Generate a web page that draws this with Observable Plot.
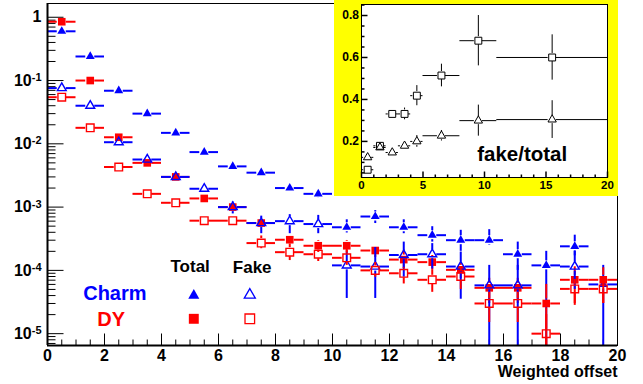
<!DOCTYPE html>
<html><head><meta charset="utf-8">
<script src="https://cdn.jsdelivr.net/npm/d3@7"></script>
<script src="https://cdn.jsdelivr.net/npm/@observablehq/plot@0.6"></script>
<style>
body{margin:0;background:#fff;}
#wrap{position:relative;width:643px;height:384px;overflow:hidden;font-family:"Liberation Sans",Arial,sans-serif;}
#wrap svg{display:block;}
#inset{position:absolute;left:334px;top:0;}
</style></head><body><div id="wrap"><div id="main"></div><div id="inset"></div></div>
<script>
// ---------- data ----------
const binCenter = [0.5,1.5,2.5,3.5,4.5,5.5,6.5,7.5,8.5,9.5,10.5,11.5,12.5,13.5,14.5,15.5,16.5,17.5,18.5,19.5];

const charmTotal   = [0.60,0.24,0.069,0.030,0.0149,0.0074,0.0044,0.0035,0.0020,0.00162,4.8e-4,7.1e-4,4.8e-4,3.6e-4,3.0e-4,3.0e-4,1.8e-4,1.2e-4,2.4e-4,6.0e-5];
const charmTotalLo = [null,null,null,null,null,null,null,null,1.75e-3,1.37e-3,3.9e-4,5.5e-4,3.8e-4,2.8e-4,2.0e-4,2.5e-4,1.0e-4,0,1.7e-4,0];
const charmTotalHi = [null,null,null,null,null,null,null,null,2.3e-3,1.9e-3,6.3e-4,8.8e-4,6.3e-4,4.9e-4,4.3e-4,4.4e-4,2.8e-4,2.0e-4,3.6e-4,1.2e-4];

const dyTotal   = [0.85,0.10,0.0127,0.0050,0.0030,0.00137,0.0010,5.6e-4,3.05e-4,2.45e-4,2.45e-4,2.06e-4,1.48e-4,1.35e-4,1.02e-4,5.3e-5,5.3e-5,3.0e-5,7.1e-5,7.1e-5];
const dyTotalLo = [null,null,null,null,null,null,null,null,2.57e-4,1.92e-4,1.92e-4,1.6e-4,1.07e-4,1.0e-4,7.4e-5,3.0e-5,3.0e-5,0,2.8e-5,3.0e-5];
const dyTotalHi = [null,null,null,null,null,null,null,null,3.56e-4,2.97e-4,2.97e-4,2.4e-4,2.06e-4,1.72e-4,1.33e-4,7.5e-5,7.5e-5,6.0e-5,1.14e-4,1.1e-4];

const charmFake   = [0.076,0.040,0.0106,0.00565,0.0030,0.00195,0.0010,5.6e-4,6.0e-4,5.4e-4,1.2e-4,1.15e-4,1.75e-4,1.8e-4,1.15e-4,5.8e-5,5.8e-5,null,1.15e-4,null];
const charmFakeLo = [null,null,null,null,null,null,7.8e-4,3.8e-4,3.8e-4,3.8e-4,3.6e-5,3.6e-5,7.8e-5,1.05e-4,3.5e-5,0,0,null,5.0e-5,null];
const charmFakeHi = [null,null,null,null,null,null,1.2e-3,7.2e-4,7.6e-4,7.4e-4,1.95e-4,2.3e-4,2.8e-4,2.65e-4,1.95e-4,1.2e-4,1.2e-4,null,2.0e-4,null];

const dyFake   = [0.0545,0.0179,0.0043,0.00162,0.00117,6.1e-4,6.1e-4,2.7e-4,1.94e-4,1.8e-4,1.58e-4,1.0e-4,9.0e-5,7.1e-5,8.0e-5,3.0e-5,3.0e-5,1.0e-5,5.1e-5,5.1e-5];
const dyFakeLo = [null,null,null,null,null,null,null,2.2e-4,1.43e-4,1.38e-4,1.2e-4,7.8e-5,6.1e-5,4.5e-5,5.0e-5,1.5e-5,1.5e-5,0,3.0e-5,3.0e-5];
const dyFakeHi = [null,null,null,null,null,null,null,3.5e-4,2.6e-4,2.4e-4,2.3e-4,1.33e-4,1.1e-4,1.0e-4,1.1e-4,4.5e-5,4.5e-5,2.0e-5,7.2e-5,7.2e-5];

// inset: fake/total
const ratioCenter = [0.5,1.5,2.5,3.5,4.5,6.5,9.5,15.5];
const ratioBinLo  = [0,1,2,3,4,5,8,11];
const ratioBinHi  = [1,2,3,4,5,8,11,20];
const ratioDY       = [0.065,0.179,0.331,0.331,0.418,0.514,0.68,0.60];
const ratioDYErr    = [0.008,0.012,0.012,0.028,0.048,0.054,0.12,0.108];
const ratioCharm    = [0.124,0.171,0.147,0.179,0.200,0.227,0.299,0.304];
const ratioCharmErr = [0.008,0.010,0.010,0.015,0.028,0.025,0.074,0.09];

// ticks / labels
const yTickValues = [1e-5,1e-4,1e-3,1e-2,1e-1,1];
const yTickLabels = ["10^-5","10^-4","10^-3","10^-2","10^-1","1"];
const xTickLabels = [0,2,4,6,8,10,12,14,16,18,20];
const insetXTicks = [0,5,10,15,20];
const insetYTicks = [0.2,0.4,0.6,0.8];
const insetYLabels = ["0.2","0.4","0.6","0.8"];
const legendCols = ["Total","Fake"];
const legendRows = ["Charm","DY"];
const xTitle = "Weighted offset";
const insetTitle = "fake/total";

// ---------- layout ----------
const W = 643, H = 384, mL = 47, mR = 26, mT = 3, mB = 39;
const xDomain = [0, 20], yDomain = [6.5e-6, 1.65];
const BLUE = "#0000ff", RED = "#ff0000";
const pxX = (W - mL - mR) / (xDomain[1] - xDomain[0]);
const pxDec = (H - mT - mB) / Math.log10(yDomain[1] / yDomain[0]);
const gapPx = 4.5;
const gX = gapPx / pxX, gY = Math.pow(10, gapPx / pxDec);

const hTick = len => ({draw(ctx){ ctx.moveTo(0,0); ctx.lineTo(len,0); }});
const vTick = len => ({draw(ctx){ ctx.moveTo(0,0); ctx.lineTo(0,-len); }});

const series = [
  {y: charmTotal, lo: charmTotalLo, hi: charmTotalHi, color: BLUE, symbol: "triangle", filled: true},
  {y: dyTotal, lo: dyTotalLo, hi: dyTotalHi, color: RED, symbol: "square", filled: true},
  {y: charmFake, lo: charmFakeLo, hi: charmFakeHi, color: BLUE, symbol: "triangle", filled: false},
  {y: dyFake, lo: dyFakeLo, hi: dyFakeHi, color: RED, symbol: "square", filled: false}
];

const marks = [];
// ticks
const yMinor = [];
for (let k = -6; k <= 0; k++) for (let m = 2; m <= 9; m++) { const v = m * Math.pow(10, k); if (v > yDomain[0] && v < yDomain[1]) yMinor.push(v); }
const xMinor = d3.range(0, 20.01, 0.5).filter(v => v % 2 !== 0);
marks.push(Plot.dot(yTickValues, {x: xDomain[0], y: d => d, symbol: hTick(16), fill: "none", stroke: "#000", strokeWidth: 1}));
marks.push(Plot.dot(yMinor, {x: xDomain[0], y: d => d, symbol: hTick(8), fill: "none", stroke: "#000", strokeWidth: 1}));
marks.push(Plot.dot(xTickLabels, {x: d => d, y: yDomain[0], symbol: vTick(12), fill: "none", stroke: "#000", strokeWidth: 1}));
marks.push(Plot.dot(xMinor, {x: d => d, y: yDomain[0], symbol: vTick(6), fill: "none", stroke: "#000", strokeWidth: 1}));

for (const s of series) {
  const rows = [];
  s.y.forEach((v, i) => { if (v != null) rows.push({x: binCenter[i], y: v, lo: s.lo[i], hi: s.hi[i]}); });
  const hs = [];
  rows.forEach(r => { hs.push({y: r.y, x1: r.x - 0.5, x2: r.x - gX}); hs.push({y: r.y, x1: r.x + gX, x2: r.x + 0.5}); });
  const vs = [];
  rows.forEach(r => {
    if (r.hi != null && r.hi > r.y * gY) vs.push({x: r.x, y1: r.y * gY, y2: r.hi});
    if (r.lo != null) { const lo = r.lo <= 0 ? yDomain[0] : r.lo; if (lo < r.y / gY) vs.push({x: r.x, y1: lo, y2: r.y / gY}); }
  });
  marks.push(Plot.ruleY(hs, {y: "y", x1: "x1", x2: "x2", stroke: s.color, strokeWidth: 2}));
  marks.push(Plot.ruleX(vs, {x: "x", y1: "y1", y2: "y2", stroke: s.color, strokeWidth: 2}));
  marks.push(Plot.dot(rows, {x: "x", y: "y", symbol: s.symbol, r: s.symbol === "square" ? 4.3 : 3.3,
    fill: s.filled ? s.color : "none", stroke: s.color, strokeWidth: s.filled ? 0 : 1.4}));
}

// frame + axis lines
marks.push(Plot.frame({stroke: "#000", strokeWidth: 1}));
marks.push(Plot.ruleY([yDomain[0]], {stroke: "#000", strokeWidth: 2}));
marks.push(Plot.ruleX([xDomain[0]], {stroke: "#000", strokeWidth: 2}));

// tick labels
marks.push(Plot.text(xTickLabels, {x: d => d, y: yDomain[0], dy: 10, text: d => String(d), fontSize: 16, fontWeight: "bold", fill: "#000"}));
marks.push(Plot.text(yTickValues, {x: xDomain[0], y: d => d, dx: -6, text: (d, i) => yTickLabels[i], textAnchor: "end", fontSize: 16, fontWeight: "bold", fill: "#000"}));
marks.push(Plot.text([xTitle], {frameAnchor: "bottom-right", dy: 31, text: d => d, textAnchor: "end", lineAnchor: "bottom", fontSize: 16, fontWeight: "bold", fill: "#000"}));

// legend
marks.push(Plot.text([legendCols[0]], {frameAnchor: "top-left", dx: 123, dy: 268.7, text: d => d, textAnchor: "start", lineAnchor: "bottom", fontSize: 17, fontWeight: "bold", fill: "#000"}));
marks.push(Plot.text([legendCols[1]], {frameAnchor: "top-left", dx: 185.3, dy: 269, text: d => d, textAnchor: "start", lineAnchor: "bottom", fontSize: 17, fontWeight: "bold", fill: "#000"}));
marks.push(Plot.text([legendRows[0]], {frameAnchor: "top-left", dx: 35.7, dy: 296, text: d => d, textAnchor: "start", lineAnchor: "bottom", fontSize: 20, fontWeight: "bold", fill: BLUE}));
marks.push(Plot.text([legendRows[1]], {frameAnchor: "top-left", dx: 49.7, dy: 322.7, text: d => d, textAnchor: "start", lineAnchor: "bottom", fontSize: 20, fontWeight: "bold", fill: RED}));
marks.push(Plot.dot([0], {frameAnchor: "top-left", dx: 146.3, dy: 292, symbol: "triangle", r: 4.1, fill: BLUE, stroke: "none"}));
marks.push(Plot.dot([0], {frameAnchor: "top-left", dx: 202.3, dy: 291.5, symbol: "triangle", r: 4.1, fill: "none", stroke: BLUE, strokeWidth: 1.3}));
marks.push(Plot.dot([0], {frameAnchor: "top-left", dx: 146.3, dy: 315.3, symbol: "square", r: 5.6, fill: RED, stroke: "none"}));
marks.push(Plot.dot([0], {frameAnchor: "top-left", dx: 202.3, dy: 315.3, symbol: "square", r: 5.4, fill: "none", stroke: RED, strokeWidth: 1.3}));

const main = Plot.plot({
  width: W, height: H, marginLeft: mL, marginRight: mR, marginTop: mT, marginBottom: mB,
  x: {domain: xDomain, axis: null},
  y: {type: "log", domain: yDomain, axis: null},
  style: {fontFamily: "'Liberation Sans', Arial, sans-serif", background: "white", overflow: "visible"},
  marks
});

function supers(svg) {
  d3.select(svg).selectAll("text").each(function() {
    const t = this.textContent; const m = /^10\^(-?\d+)$/.exec(t);
    if (m) { this.textContent = "10"; d3.select(this).append("tspan").attr("dy", "-0.42em").attr("font-size", "11px").text(m[1]); }
  });
}
supers(main);
document.getElementById("main").appendChild(main);

// ---------- inset ----------
const iW = 284, iH = 196, imL = 27, imR = 11, imT = 4, imB = 19;
const ixDomain = [0, 20], iyDomain = [0.028, 0.8525];
const ipxX = (iW - imL - imR) / (ixDomain[1] - ixDomain[0]);
const ipxY = (iH - imT - imB) / (iyDomain[1] - iyDomain[0]);
const igap = 4;
const igX = igap / ipxX, igY = igap / ipxY;
const imarks = [Plot.frame({fill: "white", stroke: "none"})];
const iyMinor = d3.range(0.05, 0.851, 0.05).filter(v => Math.abs(v * 5 - Math.round(v * 5)) > 1e-6);
const ixMinor = d3.range(1, 20, 1).filter(v => v % 5 !== 0);
imarks.push(Plot.dot(insetYTicks, {x: ixDomain[0], y: d => d, symbol: hTick(6), fill: "none", stroke: "#000"}));
imarks.push(Plot.dot(iyMinor, {x: ixDomain[0], y: d => d, symbol: hTick(3), fill: "none", stroke: "#000"}));
imarks.push(Plot.dot(insetXTicks, {x: d => d, y: iyDomain[0], symbol: vTick(6), fill: "none", stroke: "#000"}));
imarks.push(Plot.dot(ixMinor, {x: d => d, y: iyDomain[0], symbol: vTick(3), fill: "none", stroke: "#000"}));
const iseries = [
  {y: ratioCharm, err: ratioCharmErr, symbol: "triangle", r: 3.1},
  {y: ratioDY, err: ratioDYErr, symbol: "square", r: 3.9}
];
for (const s of iseries) {
  const rows = s.y.map((v, i) => ({x: ratioCenter[i], x1: ratioBinLo[i], x2: ratioBinHi[i], y: v, e: s.err[i]}));
  const hs = [], vs = [];
  rows.forEach(r => {
    hs.push({y: r.y, x1: r.x1, x2: r.x - igX}); hs.push({y: r.y, x1: r.x + igX, x2: r.x2});
    if (r.e > igY) { vs.push({x: r.x, y1: r.y + igY, y2: r.y + r.e}); vs.push({x: r.x, y1: r.y - r.e, y2: r.y - igY}); }
  });
  imarks.push(Plot.ruleY(hs, {y: "y", x1: "x1", x2: "x2", stroke: "#000", strokeWidth: 1}));
  imarks.push(Plot.ruleX(vs, {x: "x", y1: "y1", y2: "y2", stroke: "#000", strokeWidth: 1}));
  imarks.push(Plot.dot(rows, {x: "x", y: "y", symbol: s.symbol, r: s.r, fill: "none", stroke: "#000", strokeWidth: 1}));
}
imarks.push(Plot.frame({stroke: "#000", strokeWidth: 1}));
imarks.push(Plot.text(insetXTicks, {x: d => d, y: iyDomain[0], dy: 7.5, text: d => String(d), fontSize: 11.5, fontWeight: "bold", fill: "#000"}));
imarks.push(Plot.text(insetYTicks, {x: ixDomain[0], y: d => d, dx: -2.5, text: (d, i) => insetYLabels[i], textAnchor: "end", fontSize: 12, fontWeight: "bold", fill: "#000"}));
imarks.push(Plot.text([insetTitle], {frameAnchor: "top-left", dx: 115.7, dy: 156.7, text: d => d, textAnchor: "start", lineAnchor: "bottom", fontSize: 20.5, fontWeight: "bold", fill: "#000"}));

const inset = Plot.plot({
  width: iW, height: iH, marginLeft: imL, marginRight: imR, marginTop: imT, marginBottom: imB,
  x: {domain: ixDomain, axis: null},
  y: {domain: iyDomain, axis: null},
  style: {fontFamily: "'Liberation Sans', Arial, sans-serif", background: "#ffff00", overflow: "visible"},
  marks: imarks
});
document.getElementById("inset").appendChild(inset);
</script></body></html>
